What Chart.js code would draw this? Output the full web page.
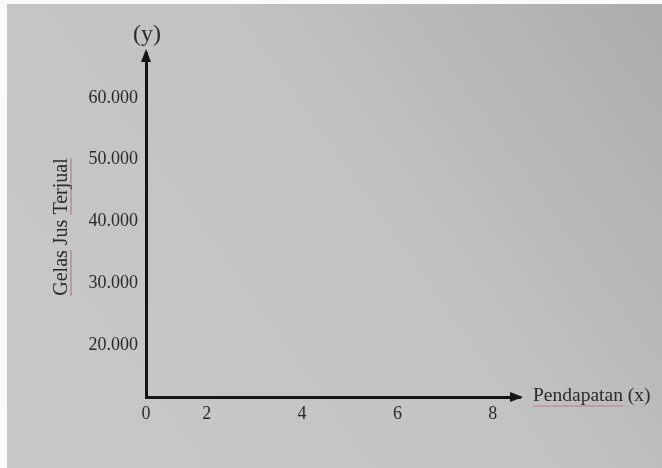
<!DOCTYPE html>
<html>
<head>
<meta charset="utf-8">
<script src="https://cdn.jsdelivr.net/npm/chart.js@4.4.1/dist/chart.umd.min.js"></script>
<style>
  html, body { margin: 0; padding: 0; background: #fff; }
  #wrap { position: relative; width: 662px; height: 468px; overflow: hidden; }
  canvas { filter: blur(0.5px); }
</style>
</head>
<body>
<div id="wrap"><canvas id="jusChart" width="662" height="468"></canvas></div>
<script>
// tick labels (the graph itself is empty)
const xTicks = [0, 2, 4, 6, 8];
const yTicks = [20000, 30000, 40000, 50000, 60000];
const points = [];   // no data plotted in the reference

const xTitle = 'Pendapatan (x)';
const yTitle = 'Gelas Jus Terjual';
const yTop = '(y)';

const serif = '"Liberation Serif", "DejaVu Serif", serif';
const ink = '#2a2a2a';

// paper background + arrows + axis captions
const paperPlugin = {
  id: 'paper',
  beforeDraw(chart) {
    const ctx = chart.ctx;
    ctx.save();
    ctx.fillStyle = '#fafafa';
    ctx.fillRect(0, 0, chart.width, chart.height);
    const g = ctx.createLinearGradient(0, chart.height, chart.width, 0);
    g.addColorStop(0, '#c8c8c8');
    g.addColorStop(0.55, '#c3c3c3');
    g.addColorStop(1, '#acacac');
    ctx.fillStyle = g;
    ctx.fillRect(7, 4, chart.width - 7, chart.height - 4);
    ctx.restore();
  },
  afterDraw(chart) {
    const ctx = chart.ctx;
    const area = chart.chartArea;
    const x0 = area.left, y0 = area.bottom;
    ctx.save();
    ctx.fillStyle = '#151515';
    // arrow on y axis
    ctx.beginPath();
    ctx.moveTo(x0, area.top - 4);
    ctx.lineTo(x0 - 5, area.top + 9);
    ctx.lineTo(x0 + 5, area.top + 9);
    ctx.closePath();
    ctx.fill();
    // arrow on x axis
    ctx.beginPath();
    ctx.moveTo(area.right + 3, y0);
    ctx.lineTo(area.right - 10, y0 - 5);
    ctx.lineTo(area.right - 10, y0 + 5);
    ctx.closePath();
    ctx.fill();

    ctx.fillStyle = ink;
    // (y) above the axis
    ctx.font = '24px ' + serif;
    ctx.textAlign = 'center';
    ctx.textBaseline = 'middle';
    ctx.fillText(yTop, x0 + 1, 35);

    // x caption
    ctx.font = '19.5px ' + serif;
    ctx.textAlign = 'left';
    ctx.fillText(xTitle, area.right + 13, y0 - 1);
    const wx = ctx.measureText('Pendapatan').width;
    ctx.strokeStyle = 'rgba(190,70,80,0.55)';
    ctx.lineWidth = 1;
    ctx.beginPath();
    ctx.moveTo(area.right + 13, y0 + 9);
    ctx.lineTo(area.right + 13 + wx, y0 + 9);
    ctx.stroke();

    // y caption, rotated
    ctx.translate(62, 227);
    ctx.rotate(-Math.PI / 2);
    ctx.font = '20px ' + serif;
    ctx.textAlign = 'center';
    ctx.fillText(yTitle, 0, 0);
    const full = ctx.measureText(yTitle).width;
    const w1 = ctx.measureText('Gelas').width;
    const w2 = ctx.measureText('Terjual').width;
    ctx.strokeStyle = 'rgba(150,60,70,0.6)';
    ctx.beginPath();
    ctx.moveTo(-full / 2, 9);
    ctx.lineTo(-full / 2 + w1, 9);
    ctx.moveTo(full / 2 - w2, 9);
    ctx.lineTo(full / 2, 9);
    ctx.stroke();
    ctx.restore();
  }
};

const fmt = v => String(v).replace(/\B(?=(\d{3})+(?!\d))/g, '.');

const chart = new Chart(document.getElementById('jusChart'), {
  type: 'scatter',
  data: {
    datasets: [{ label: yTitle, data: points, backgroundColor: ink }]
  },
  options: {
    responsive: false,
    animation: false,
    devicePixelRatio: 1,
    layout: { padding: { top: 53, right: 142, left: 0, bottom: 0 } },
    plugins: {
      legend: { display: false },
      tooltip: { enabled: false }
    },
    scales: {
      x: {
        type: 'linear',
        min: 0.727,
        max: 8.57,
        grid: { display: false },
        border: { display: true, color: '#151515', width: 3 },
        afterBuildTicks: s => { s.ticks = xTicks.map(v => ({ value: v === 0 ? s.min : v })); },
        afterFit: s => { s.height = 71; },
        ticks: {
          autoSkip: false,
          maxRotation: 0,
          padding: -2,
          color: ink,
          font: { family: serif, size: 18 },
          callback: (v, i) => String(xTicks[i])
        }
      },
      y: {
        type: 'linear',
        min: 11580,
        max: 67290,
        grid: { display: false },
        border: { display: true, color: '#151515', width: 3 },
        afterBuildTicks: s => { s.ticks = yTicks.map(v => ({ value: v })); },
        afterFit: s => { s.width = 146; },
        ticks: {
          autoSkip: false,
          padding: 0,
          color: ink,
          font: { family: serif, size: 18 },
          callback: v => fmt(v)
        }
      }
    }
  },
  plugins: [paperPlugin]
});
</script>
</body>
</html>
